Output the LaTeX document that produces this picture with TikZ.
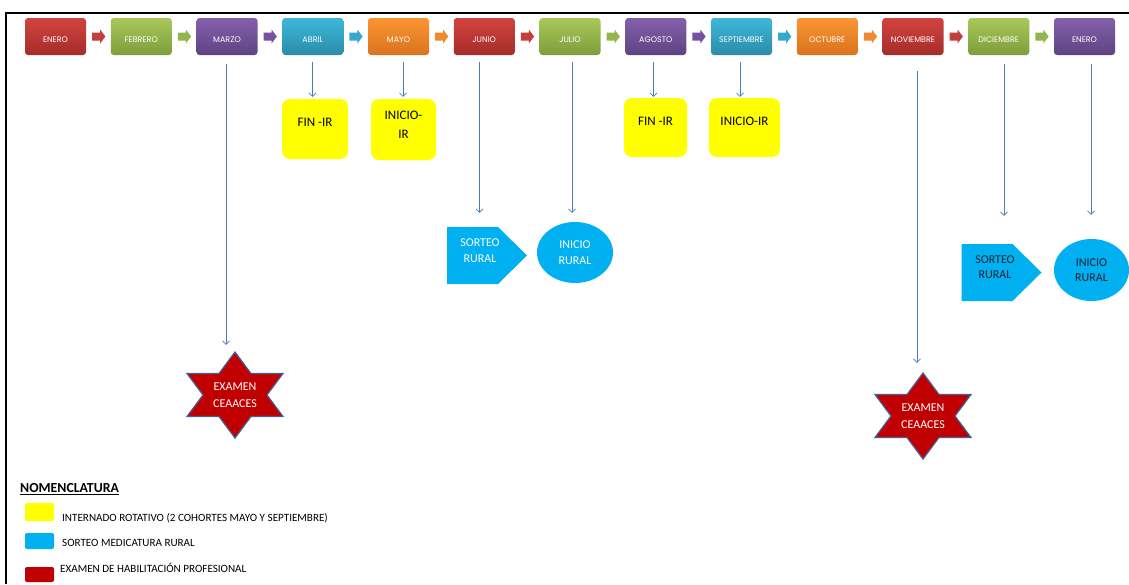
\documentclass[tikz,border=0pt]{standalone}
\usepackage{fontspec}
\setmainfont{Carlito}
\newfontfamily\monthfont{Poppins}
\usetikzlibrary{arrows.meta,calc,shapes.geometric}
\definecolor{redT}{HTML}{D2443F}\definecolor{redB}{HTML}{A52C2A}\definecolor{redM}{HTML}{C0403D}
\definecolor{greenT}{HTML}{A8C95A}\definecolor{greenB}{HTML}{7E9D3C}\definecolor{greenM}{HTML}{93B64C}
\definecolor{purpleT}{HTML}{8460AC}\definecolor{purpleB}{HTML}{5E4382}\definecolor{purpleM}{HTML}{7452A0}
\definecolor{blueT}{HTML}{3EB7D9}\definecolor{blueB}{HTML}{2B8CA9}\definecolor{blueM}{HTML}{35A9CB}
\definecolor{orangeT}{HTML}{FC9532}\definecolor{orangeB}{HTML}{D9731F}\definecolor{orangeM}{HTML}{F08A2C}
\definecolor{connblue}{HTML}{4A7EBB}
\definecolor{yellowbox}{HTML}{FFFF00}
\definecolor{sky}{HTML}{00B0F0}
\definecolor{exred}{HTML}{C00000}
\definecolor{starborder}{HTML}{41619A}
\definecolor{darktext}{HTML}{1A2233}
\tikzset{
  monthbox/.style={rounded corners=3pt, minimum width=61pt, minimum height=37pt, inner sep=0pt},
  monthtext/.style={text=white, inner sep=0pt, font=\monthfont\fontsize{8}{8}\selectfont},
  chev/.style={fill=#1M},
  conn/.style={draw=connblue, line width=0.7pt, -{Straight Barb[length=3.5pt,width=7pt]}},
  ybox/.style={fill=yellowbox, rounded corners=8pt, inner sep=0pt},
  ytext/.style={align=center, font=\fontsize{13}{18.5}\selectfont},
  shapebox/.style={inner sep=0pt, minimum width=80pt, minimum height=57pt,
    path picture={\fill[sky] (path picture bounding box.north west)
      -- ([xshift=-29pt]path picture bounding box.north east)
      -- ($(path picture bounding box.north east)!0.5!(path picture bounding box.south east)$)
      -- ([xshift=-29pt]path picture bounding box.south east)
      -- (path picture bounding box.south west) -- cycle;}},
  rtext/.style={align=center, font=\fontsize{12}{15.7}\selectfont},
  rural/.style={ellipse, fill=sky, inner sep=0pt, align=center, font=\fontsize{12}{15.7}\selectfont},
  starfill/.style={fill=exred, draw=starborder, line width=1.2pt, line join=miter},
  extext/.style={align=center, text=white, inner sep=0pt, minimum width=96pt, minimum height=86pt,
    font=\fontsize{12}{16.5}\selectfont},
  swatch/.style={rounded corners=2pt, inner sep=0pt, minimum width=29pt},
  legtext/.style={anchor=west, inner sep=0pt, font=\fontsize{11.1}{12}\selectfont},
}
\newcommand{\hexstar}[1]{%
  \path[starfill] (#1) ++(0,-43) -- ++(16,21.5) -- ++(32,0) -- ++(-16,21.5) -- ++(16,21.5)
    -- ++(-32,0) -- ++(-16,21.5) -- ++(-16,-21.5) -- ++(-32,0) -- ++(16,-21.5) -- ++(-16,-21.5)
    -- ++(32,0) -- cycle;}
\begin{document}
\begin{tikzpicture}[x=1pt,y=-1pt]
\useasboundingbox (0,0) rectangle (1129,584);
\fill[white] (0,0) rectangle (1129,584);
\draw[line width=1.6pt] (1129,13) -- (6,13) -- (6,584);

% months
\foreach \i/\n/\col in {0/ENERO/red,1/FEBRERO/green,2/MARZO/purple,3/ABRIL/blue,4/MAYO/orange,
  5/JUNIO/red,6/JULIO/green,7/AGOSTO/purple,8/SEPTIEMBRE/blue,9/OCTUBRE/orange,
  10/NOVIEMBRE/red,11/DICIEMBRE/green,12/ENERO/purple}{
  \node[monthbox, top color=\col T, bottom color=\col B] (m\i) at ({55.5+85.75*\i},36.5) {};
  \node[monthtext] (mt\i) at ([yshift=-3.5pt]m\i.center) {\n};
}

% chevrons
\foreach \i/\col in {0/red,1/green,2/purple,3/blue,4/orange,5/red,6/green,7/purple,8/blue,9/orange,10/red,11/green}{
  \pgfmathtruncatemacro\j{\i+1}
  \coordinate (ch\i) at ($(m\i.east)!0.5!(m\j.west)$);
  \fill[chev=\col] (ch\i) ++(-6.3,-4) -- ++(8,0) -- ++(0,-3) -- ++(5.3,7) -- ++(-5.3,7)
     -- ++(0,-3) -- ++(-8,0) -- cycle;
}

% yellow boxes
\node[ybox, minimum width=66pt, minimum height=60pt] (fin1) at (315,129) {};
\node[ytext] at ([yshift=7pt]fin1.center) {FIN -IR};
\node[ybox, minimum width=65pt, minimum height=61pt] (ini1) at (403.5,129.5) {};
\node[ytext] at ([yshift=4.5pt]ini1.center) {INICIO-\\IR};
\node[ybox, minimum width=63pt, minimum height=59pt] (fin2) at (655.5,127.5) {};
\node[ytext] at ([yshift=6pt]fin2.center) {FIN -IR};
\node[ybox, minimum width=71pt, minimum height=59pt] (ini2) at (744.5,127.5) {};
\node[ytext] at ([yshift=6.5pt]ini2.center) {INICIO-IR};

% sorteo shapes
\node[shapebox] (sr1) at (487,255.5) {};
\node[rtext, text=white] at (480,250.5) {SORTEO\\RURAL};
\node[shapebox] (sr2) at (1001.5,272.5) {};
\node[rtext, text=darktext] at (995,267) {SORTEO\\RURAL};

% inicio rural
\node[rural, text=white, minimum width=76pt, minimum height=61pt] (ir1) at (575,252.5) {INICIO\\RURAL};
\node[rural, text=darktext, minimum width=75pt, minimum height=62pt] (ir2) at (1091.5,270) {INICIO\\RURAL};

% stars
\coordinate (c1) at (235,395);
\hexstar{c1}
\node[extext] (ex1) at (c1) {EXAMEN\\CEAACES};
\coordinate (c2) at (923,416);
\hexstar{c2}
\node[extext] (ex2) at (c2) {EXAMEN\\CEAACES};

% connectors
\coordinate (s3) at (226,64);
\coordinate (s4) at (312.5,62);
\coordinate (s5) at (403,62);
\coordinate (s6) at (479.5,62);
\coordinate (s7) at (572,62);
\coordinate (s9) at (653.5,62);
\coordinate (s10) at (740,62);
\coordinate (s12) at (917,71);
\coordinate (s13) at (1004,64);
\coordinate (s14) at (1091,64);
\draw[conn, shorten >=7pt] (s3) -- (s3 |- ex1.north);
\draw[conn, shorten >=2pt] (s4) -- (s4 |- fin1.north);
\draw[conn, shorten >=2pt] (s5) -- (s5 |- ini1.north);
\draw[conn, shorten >=14pt] (s6) -- (s6 |- sr1.north);
\draw[conn, shorten >=9pt] (s7) -- (s7 |- ir1.north);
\draw[conn, shorten >=1pt] (s9) -- (s9 |- fin2.north);
\draw[conn, shorten >=1pt] (s10) -- (s10 |- ini2.north);
\draw[conn, shorten >=10pt] (s12) -- (s12 |- ex2.north);
\draw[conn, shorten >=28pt] (s13) -- (s13 |- sr2.north);
\draw[conn, shorten >=24pt] (s14) -- (s14 |- ir2.north);

% legend
\node[anchor=west, inner sep=0pt, font=\bfseries\fontsize{13.8}{15}\selectfont] (nom) at (20,489) {\underline{NOMENCLATURA}};
\node[swatch, fill=yellowbox, minimum height=18pt] (lg1) at (39.5,512) {};
\node[legtext] (lt1) at (62,518) {INTERNADO ROTATIVO (2 COHORTES MAYO Y SEPTIEMBRE)};
\node[swatch, fill=sky, minimum height=16pt] (lg2) at (39.5,541) {};
\node[legtext] (lt2) at (62,543) {SORTEO MEDICATURA RURAL};
\node[swatch, fill=exred, minimum height=15pt] (lg3) at (39.5,574.5) {};
\node[legtext] (lt3) at (60,568) {EXAMEN DE HABILITACIÓN PROFESIONAL};
\end{tikzpicture}
\end{document}
